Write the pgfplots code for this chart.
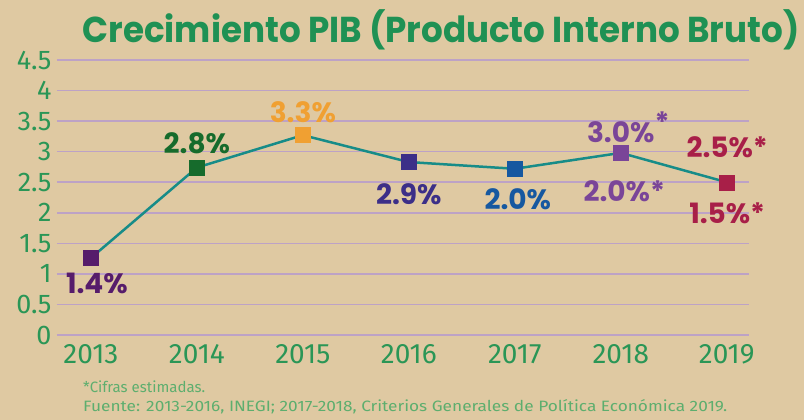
\documentclass[border=0pt]{standalone}
\usepackage{pgfplots}
\pgfplotsset{compat=1.18}
\usepackage{fontspec}
\setmainfont{Fira Sans}
\newfontfamily\pop{Poppins}
\definecolor{bgc}{HTML}{DFC9A2}
\definecolor{titlec}{HTML}{1F9154}
\definecolor{tickc}{HTML}{2A9656}
\definecolor{gridc}{HTML}{BDA2C6}
\definecolor{linec}{HTML}{178C88}
\definecolor{footc}{HTML}{5DAE6E}
\definecolor{cA}{HTML}{561C6B}
\definecolor{cB}{HTML}{166B2C}
\definecolor{cC}{HTML}{F0A032}
\definecolor{cD}{HTML}{3C2F88}
\definecolor{cE}{HTML}{1658A0}
\definecolor{cF}{HTML}{7A4598}
\definecolor{cG}{HTML}{A81F48}
\begin{document}
\begin{tikzpicture}[x=1pt,y=1pt]
\fill[bgc] (0,0) rectangle (804,420);
\node[text=titlec, font=\pop\bfseries\fontsize{36}{40}\selectfont, inner sep=0pt] at (441,390) {\resizebox{717pt}{\height}{Crecimiento PIB (Producto Interno Bruto)}};
\begin{axis}[at={(57pt,85pt)}, anchor=south west, scale only axis,
  width=692pt, height=275pt,
  xmin=-0.32, xmax=6.21, ymin=0, ymax=4.5,
  ytick={0,0.5,1,1.5,2,2.5,3,3.5,4,4.5},
  yticklabels={0,0.5,1,1.5,2,2.5,3,3.5,4,4.5},
  xtick={0,1,2,3,4,5,6},
  xticklabels={2013,2014,2015,2016,2017,2018,2019},
  axis line style={draw=none}, major tick length=0,
  ymajorgrids, grid style={gridc, line width=1.5pt},
  tick label style={text=tickc, font=\fontsize{27}{30}\selectfont},
  xticklabel style={font=\fontsize{28}{30}\selectfont, yshift=-6pt},
  yticklabel style={xshift=-2pt},
  clip=false]
\addplot[linec, line width=2.5pt, mark=none] coordinates {(0,1.26) (1,2.74) (2,3.27) (3,2.83) (4,2.72) (5,2.98) (6,2.5)};
\addplot[only marks, mark=square*, mark size=7.5pt, color=cA] coordinates {(0,1.26)};
\addplot[only marks, mark=square*, mark size=7.5pt, color=cB] coordinates {(1,2.74)};
\addplot[only marks, mark=square*, mark size=7.5pt, color=cC] coordinates {(2,3.27)};
\addplot[only marks, mark=square*, mark size=7.5pt, color=cD] coordinates {(3,2.83)};
\addplot[only marks, mark=square*, mark size=7.5pt, color=cE] coordinates {(4,2.72)};
\addplot[only marks, mark=square*, mark size=7.5pt, color=cF] coordinates {(5,2.98)};
\addplot[only marks, mark=square*, mark size=7.5pt, color=cG] coordinates {(6,2.5)};
\tikzset{lab/.style={font=\pop\bfseries\fontsize{28}{30}\selectfont, inner sep=0pt}}
\node[lab, text=cA, xshift=6pt, yshift=-25pt] at (axis cs:0,1.26) {1.4\%};
\node[lab, text=cB, yshift=24pt] at (axis cs:1,2.74) {2.8\%};
\node[lab, text=cC, yshift=23pt] at (axis cs:2,3.27) {3.3\%};
\node[lab, text=cD, yshift=-32pt] at (axis cs:3,2.83) {2.9\%};
\node[lab, text=cE, xshift=3pt, yshift=-30pt] at (axis cs:4,2.72) {2.0\%};
\node[lab, text=cF, yshift=26pt] at (axis cs:5,2.98) {3.0\%\rlap{\raisebox{10pt}{*}}};
\node[lab, text=cF, xshift=-4pt, yshift=-38pt] at (axis cs:5,2.98) {2.0\%\rlap{*}};
\node[lab, text=cG, xshift=-7pt, yshift=35pt] at (axis cs:6,2.5) {2.5\%\rlap{*}};
\node[lab, text=cG, xshift=-7pt, yshift=-31pt] at (axis cs:6,2.5) {1.5\%\rlap{*}};
\end{axis}
\node[anchor=west, text=footc, font=\fontsize{15}{17}\selectfont, inner sep=0pt] at (83,33) {*Cifras estimadas.};
\node[anchor=west, text=footc, font=\fontsize{15}{17}\selectfont, inner sep=0pt] at (83,13) {\resizebox{644pt}{\height}{Fuente: 2013-2016, INEGI; 2017-2018, Criterios Generales de Política Económica 2019.}};
\end{tikzpicture}
\end{document}
